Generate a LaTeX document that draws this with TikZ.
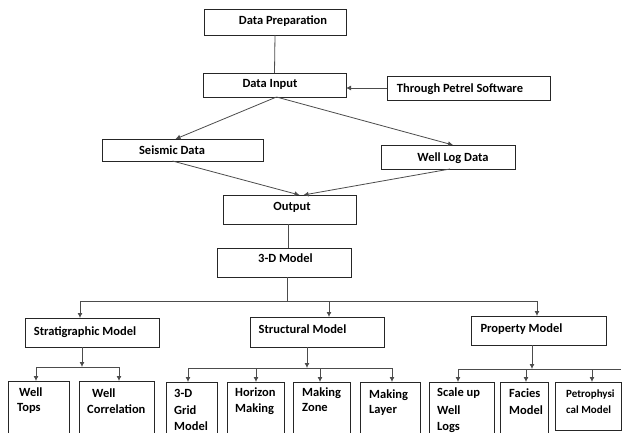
\documentclass[tikz,border=0pt]{standalone}
\usepackage{fontspec}
\setmainfont{Carlito}
\usetikzlibrary{arrows.meta}
\begin{document}
\begin{tikzpicture}[x=1pt,y=-1pt,
  box/.style={draw=black!85,line width=0.8pt,inner sep=0pt,outer sep=0pt},
  lbl/.style={font=\fontsize{12.5}{15}\selectfont\bfseries,inner sep=0pt,anchor=base},
  lblw/.style={lbl,anchor=base west},
  lbls/.style={font=\fontsize{11}{13}\selectfont\bfseries,inner sep=0pt,anchor=base west},
  con/.style={draw=black!70,line width=0.8pt},
  arr/.style={con,-{Latex[length=5pt,width=5pt]}}]
\clip (0,0) rectangle (622,432);
\fill[white] (0,0) rectangle (622,432);
% boxes
\node[box,minimum width=142pt,minimum height=26pt] (dp) at (275,22) {};
\node[box,minimum width=143pt,minimum height=24pt] (di) at (274.5,85) {};
\node[box,minimum width=163pt,minimum height=24pt] (petrel) at (468.5,88) {};
\node[box,minimum width=161pt,minimum height=22pt] (seis) at (182.5,150) {};
\node[box,minimum width=134pt,minimum height=24pt] (wl) at (448,157) {};
\node[box,minimum width=133pt,minimum height=29pt] (out) at (289.5,209.5) {};
\node[box,minimum width=134pt,minimum height=29pt] (m3d) at (284,262.5) {};
\node[box,minimum width=134pt,minimum height=29pt] (strat) at (92,332.5) {};
\node[box,minimum width=134pt,minimum height=30pt] (struct) at (317,332) {};
\node[box,minimum width=135pt,minimum height=29pt] (prop) at (538.5,330.5) {};
\node[box,minimum width=61pt,minimum height=64pt] (wt) at (38.5,413) {};
\node[box,minimum width=75pt,minimum height=64pt] (wc) at (116.5,413) {};
\node[box,minimum width=51pt,minimum height=64pt] (grid) at (191.5,414) {};
\node[box,minimum width=57pt,minimum height=64pt] (hor) at (255.5,414) {};
\node[box,minimum width=57pt,minimum height=64pt] (zone) at (321.5,414) {};
\node[box,minimum width=60pt,minimum height=64pt] (layer) at (390,414) {};
\node[box,minimum width=65pt,minimum height=64pt] (scale) at (461.5,414) {};
\node[box,minimum width=48pt,minimum height=64pt] (fac) at (524,414) {};
\node[box,minimum width=66pt,minimum height=48pt] (petro) at (588,406) {};
% labels
\node[lbl] (tdp) at (283,24) {Data Preparation};
\node[lbl] (tdi) at (270,87) {Data Input};
\node[lbl] (tpe) at (460,92) {Through Petrel Software};
\node[lbl] (tse) at (172,154) {Seismic Data};
\node[lbl] (twl) at (453,161) {Well Log Data};
\node[lbl] (tou) at (292,210) {Output};
\node[lbl] (t3d) at (285.5,262) {3-D Model};
\node[lbl] (tst) at (85,335) {Stratigraphic Model};
\node[lbl] (tsu) at (302.5,333) {Structural Model};
\node[lbl] (tpr) at (521.5,332) {Property Model};
\node[lblw] (wt1) at (19,396) {Well};
\node[lblw] (wt2) at (17,411) {Tops};
\node[lblw] (wc1) at (92,397) {Well};
\node[lblw] (wc2) at (87,413) {Correlation};
\node[lblw] (gr1) at (174,397) {3-D};
\node[lblw] (gr2) at (174,414) {Grid};
\node[lblw] (gr3) at (174,430) {Model};
\node[lblw] (ho1) at (235,396.5) {Horizon};
\node[lblw] (ho2) at (235,412) {Making};
\node[lblw] (zo1) at (302,396) {Making};
\node[lblw] (zo2) at (302,411) {Zone};
\node[lblw] (la1) at (369,398) {Making};
\node[lblw] (la2) at (369,413) {Layer};
\node[lblw] (sc1) at (437,396.5) {Scale up};
\node[lblw] (sc2) at (437,414) {Well};
\node[lblw] (sc3) at (437,430) {Logs};
\node[lblw] (fa1) at (509,397) {Facies};
\node[lblw] (fa2) at (509,414) {Model};
\node[lbls] (pe1) at (566,397) {Petrophysi};
\node[lbls] (pe2) at (566,413) {cal Model};
% connectors
\draw[con] (dp.south) -- (di.north);
\draw[arr] (petrel.west) -- (petrel.west -| di.east);
\draw[arr] ([xshift=2pt]di.south) -- ([xshift=-7pt]seis.north);
\draw[arr] ([xshift=2pt]di.south) -- ([xshift=5pt]wl.north);
\draw[arr] ([xshift=-10pt]seis.south) -- ([xshift=10pt]out.north);
\draw[arr] ([xshift=2pt]wl.south) -- ([xshift=14pt]out.north);
\draw[con] ([xshift=-1.5pt]out.south) -- ([xshift=4pt]m3d.north);
\coordinate (j1) at (287,301);
\coordinate (hl) at (80,301);
\coordinate (hm) at (329,301);
\coordinate (hr) at (537,301);
\draw[con] ([xshift=3pt]m3d.south) -- (j1);
\draw[con] (hl) -- (hr);
\draw[arr] (hl) -- (hl |- strat.north);
\draw[arr] (hm) -- (hm |- struct.north);
\draw[arr] (hr) -- (hr |- prop.north);
% stratigraphic subtree
\coordinate (s0) at (82,367);
\coordinate (sl) at (36,367);
\coordinate (sr) at (119,367);
\draw[arr] (s0 |- strat.south) -- (s0);
\draw[con] (sl) -- (sr);
\draw[arr] (sl) -- (sl |- wt.north);
\draw[arr] (sr) -- (sr |- wc.north);
% structural subtree
\coordinate (t0) at (307,368);
\coordinate (ta) at (188,368);
\coordinate (tb) at (256,368);
\coordinate (tc) at (320,368);
\coordinate (td) at (392,368);
\draw[arr] (t0 |- struct.south) -- (t0);
\draw[con] (ta) -- (td);
\draw[arr] (ta) -- (ta |- grid.north);
\draw[arr] (tb) -- (tb |- hor.north);
\draw[arr] (tc) -- (tc |- zone.north);
\draw[arr] (td) -- (td |- layer.north);
% property subtree
\coordinate (p0) at (532,369);
\coordinate (pa) at (458,369);
\coordinate (pb) at (526,369);
\coordinate (pc) at (592,369);
\coordinate (pe) at (621,369);
\draw[arr] (p0 |- prop.south) -- (p0);
\draw[con] (pa) -- (pe);
\draw[arr] (pa) -- (pa |- scale.north);
\draw[arr] (pb) -- (pb |- fac.north);
\draw[arr] (pc) -- (pc |- petro.north);
\end{tikzpicture}
\end{document}
